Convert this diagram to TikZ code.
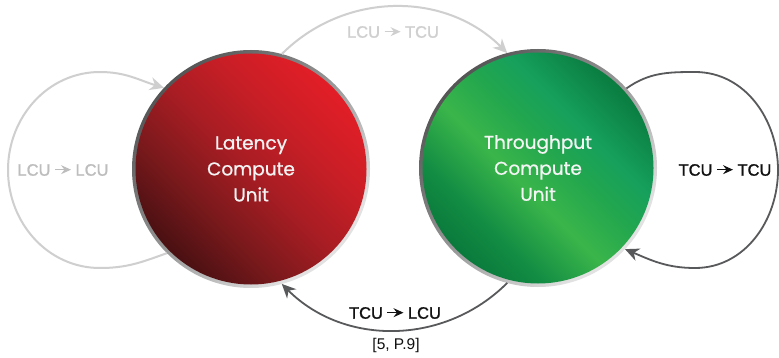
\documentclass[tikz,border=0pt]{standalone}
\usepackage{fontspec}
\setmainfont{Liberation Sans}
\newfontfamily\unitfont{Poppins}[UprightFeatures={FakeBold=0.8}]
\newfontfamily\labfont{Liberation Sans}[UprightFeatures={FakeBold=1.2}]
\usetikzlibrary{arrows.meta}

% face colours
\definecolor{redA}{HTML}{4A1012}
\definecolor{redB}{HTML}{7A191C}
\definecolor{redC}{HTML}{A81D23}
\definecolor{redD}{HTML}{C81E26}
\definecolor{redE}{HTML}{E21E27}
\definecolor{grnA}{HTML}{0A7A3C}
\definecolor{grnB}{HTML}{128C43}
\definecolor{grnC}{HTML}{3AB54A}
\definecolor{grnD}{HTML}{22A64E}
\definecolor{grnE}{HTML}{16A05C}
\definecolor{grnF}{HTML}{0A7C40}
\definecolor{rimA}{HTML}{555555}
\definecolor{rimB}{HTML}{9A9A9A}
\definecolor{rimC}{HTML}{E2E2E2}
\definecolor{connlight}{HTML}{CFCFCF}
\definecolor{conndark}{HTML}{58595B}
\definecolor{labellight}{HTML}{BDBDBD}
\definecolor{labeldark}{HTML}{111111}
\definecolor{unittext}{HTML}{F4F4F4}

\pgfdeclarehorizontalshading{redface}{100bp}{color(0bp)=(redA); color(25bp)=(redA);
  color(37bp)=(redB); color(50bp)=(redC); color(62bp)=(redD); color(75bp)=(redE); color(100bp)=(redE)}
\pgfdeclarehorizontalshading{greenface}{100bp}{color(0bp)=(grnA); color(25bp)=(grnA);
  color(33bp)=(grnB); color(45bp)=(grnC); color(55bp)=(grnD); color(63bp)=(grnE);
  color(75bp)=(grnF); color(100bp)=(grnF)}
\pgfdeclarehorizontalshading{rimface}{100bp}{color(0bp)=(rimA); color(25bp)=(rimA);
  color(50bp)=(rimB); color(72bp)=(rimC); color(100bp)=(rimC)}

% small arrow used inside the transition labels
\newcommand\labarrow[1]{\tikz[baseline=-6pt]\draw[#1,line width=1pt,
  -{Stealth[length=10pt,width=9pt,inset=3.5pt]}] (0,0)--(16pt,0);}

\tikzset{
  unit/.style={circle, minimum size=238pt, inner sep=0pt, outer sep=0pt,
    text=unittext, align=center,
    font=\unitfont\fontsize{18.5}{26}\selectfont},
  lightconn/.style={draw=connlight, line width=2pt,
    -{Stealth[length=14pt,width=13pt,inset=4.5pt]}},
  darkconn/.style={draw=conndark, line width=1.8pt,
    -{Stealth[length=14pt,width=13pt,inset=4.5pt]}},
  translabel/.style={font=\labfont\fontsize{16.5}{18}\selectfont, inner sep=1pt}
}

\begin{document}
\begin{tikzpicture}[x=1pt,y=1pt]
\useasboundingbox (0,0) rectangle (779,357);
\fill[white] (0,0) rectangle (779,357);

% the two compute units
\node[unit, path picture={
    \shade[shading=rimface, shading angle=-45] (path picture bounding box.center) circle (119pt);
    \shade[shading=redface, shading angle=45] (path picture bounding box.center) circle (115.5pt);
  }] (lcu) at (251,188) {Latency\\Compute\\Unit};
\node[unit, path picture={
    \shade[shading=rimface, shading angle=-45] (path picture bounding box.center) circle (119pt);
    \shade[shading=greenface, shading angle=45] (path picture bounding box.center) circle (115.5pt);
  }] (tcu) at (538,189) {Throughput\\Compute\\Unit};

% waypoints of the self loops
\coordinate (lb) at (100,89);
\coordinate (ll) at (8,187);
\coordinate (lt) at (100,285);
\coordinate (rt) at (695,285);
\coordinate (rr) at (778,187);
\coordinate (rb) at (695,89);

% transitions
\draw[lightconn] (lcu.75) to[out=45,in=135] (tcu.105);
\draw[lightconn] (lcu.225) to[out=200,in=0] (lb) to[out=180,in=270] (ll)
  to[out=90,in=180] (lt) to[out=0,in=163] (lcu.137);
\draw[darkconn] (tcu.42) to[out=35,in=180] (rt) to[out=0,in=90] (rr)
  to[out=270,in=0] (rb) to[out=180,in=-23] (tcu.-43);
\draw[darkconn] (tcu.255) to[out=225,in=315] (lcu.285);

% transition labels
\node[translabel, text=connlight] (l2t) at (393,325)
  {LCU\hspace{4pt}\labarrow{connlight}\hspace{4pt}TCU};
\node[translabel, text=labellight] (l2l) at (63,187)
  {LCU\hspace{4pt}\labarrow{labellight}\hspace{4pt}LCU};
\node[translabel, text=labeldark] (t2t) at (725,187)
  {TCU\hspace{4pt}\labarrow{labeldark}\hspace{4pt}TCU};
\node[translabel, text=labeldark] (t2l) at (395,44)
  {TCU\hspace{4pt}\labarrow{labeldark}\hspace{4pt}LCU};

% source note
\node[font=\fontsize{15.5}{17}\selectfont, text=labeldark] (cite) at (396,12) {[5, P.9]};
\end{tikzpicture}
\end{document}
